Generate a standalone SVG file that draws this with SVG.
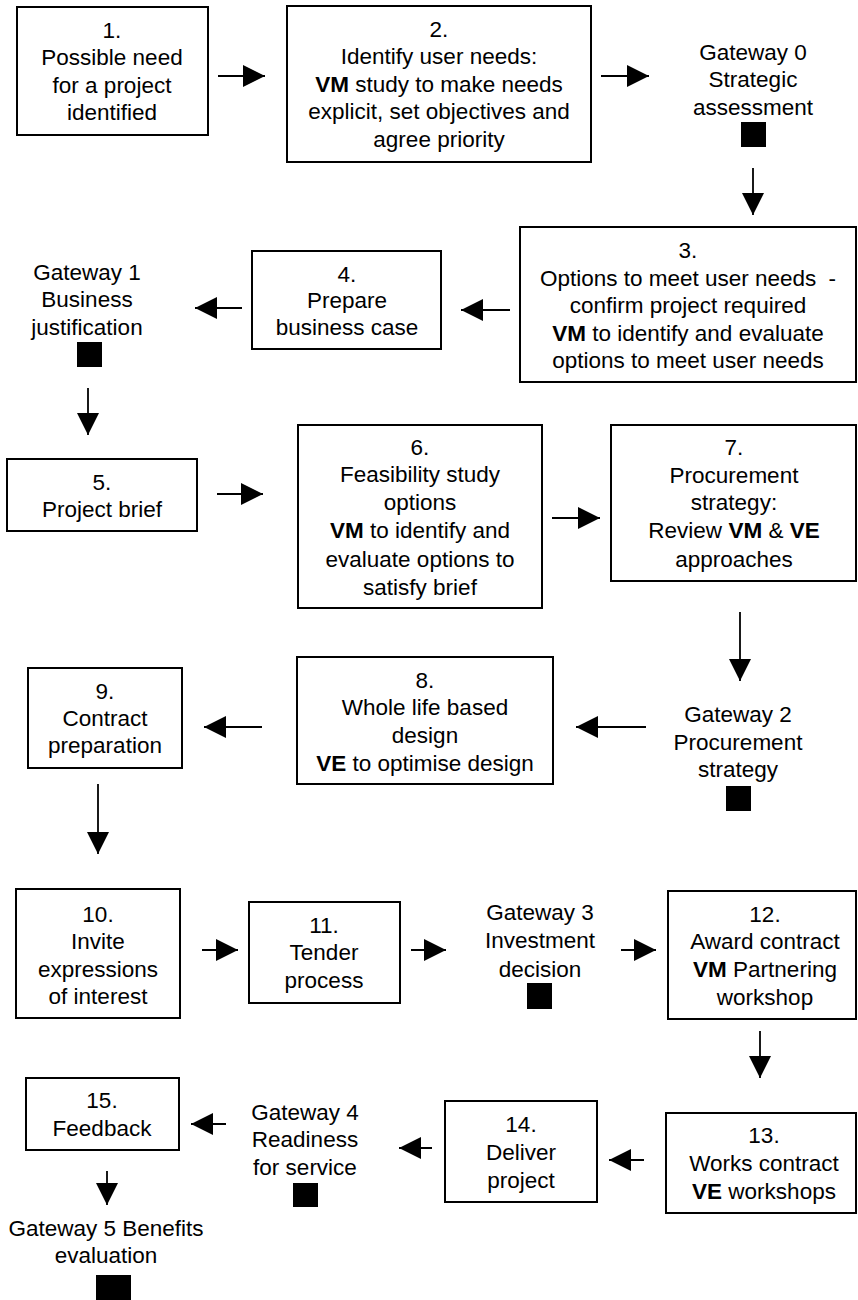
<svg xmlns="http://www.w3.org/2000/svg" width="858" height="1300" viewBox="0 0 858 1300">
<defs>
<style>
.box{fill:#fff;stroke:#000;stroke-width:2}
.t{font-family:"Liberation Sans",Arial,sans-serif;font-size:22.5px;fill:#000;text-anchor:middle}
.b{font-weight:bold}
.c{stroke:#000;stroke-width:1.8;fill:none}
.sq{fill:#000}
</style>
<marker id="ah" markerUnits="userSpaceOnUse" markerWidth="22" markerHeight="22" refX="22" refY="11" orient="auto">
<path d="M0,0 L22,11 L0,22 Z" fill="#000"/>
</marker>
</defs>
<rect width="858" height="1300" fill="#fff"/>

<g id="connectors">
<line class="c" x1="218" y1="76" x2="265" y2="76" marker-end="url(#ah)"/>
<line class="c" x1="601" y1="76" x2="649" y2="76" marker-end="url(#ah)"/>
<line class="c" x1="753" y1="168" x2="753" y2="215" marker-end="url(#ah)"/>
<line class="c" x1="510" y1="310" x2="461" y2="310" marker-end="url(#ah)"/>
<line class="c" x1="242" y1="308" x2="195" y2="308" marker-end="url(#ah)"/>
<line class="c" x1="88" y1="388" x2="88" y2="435" marker-end="url(#ah)"/>
<line class="c" x1="217" y1="494" x2="263" y2="494" marker-end="url(#ah)"/>
<line class="c" x1="552" y1="518" x2="600" y2="518" marker-end="url(#ah)"/>
<line class="c" x1="740" y1="612" x2="740" y2="681" marker-end="url(#ah)"/>
<line class="c" x1="646" y1="727" x2="576" y2="727" marker-end="url(#ah)"/>
<line class="c" x1="262" y1="727" x2="204" y2="727" marker-end="url(#ah)"/>
<line class="c" x1="98" y1="784" x2="98" y2="854" marker-end="url(#ah)"/>
<line class="c" x1="202" y1="950" x2="238" y2="950" marker-end="url(#ah)"/>
<line class="c" x1="411" y1="950" x2="446" y2="950" marker-end="url(#ah)"/>
<line class="c" x1="621" y1="950" x2="656" y2="950" marker-end="url(#ah)"/>
<line class="c" x1="760" y1="1031" x2="760" y2="1078" marker-end="url(#ah)"/>
<line class="c" x1="644" y1="1160" x2="609" y2="1160" marker-end="url(#ah)"/>
<line class="c" x1="432" y1="1148" x2="399" y2="1148" marker-end="url(#ah)"/>
<line class="c" x1="226" y1="1124" x2="191" y2="1124" marker-end="url(#ah)"/>
<line class="c" x1="107" y1="1171" x2="107" y2="1205" marker-end="url(#ah)"/>
</g>

<g id="n1">
<rect class="box" x="17" y="7" width="191" height="128"/>
<text class="t" x="112" y="38">1.</text>
<text class="t" x="112" y="65">Possible need</text>
<text class="t" x="112" y="93">for a project</text>
<text class="t" x="112" y="120">identified</text>
</g>

<g id="n2">
<rect class="box" x="287" y="6" width="304" height="156"/>
<text class="t" x="439" y="37">2.</text>
<text class="t" x="439" y="64">Identify user needs:</text>
<text class="t" x="439" y="92"><tspan class="b">VM</tspan> study to make needs</text>
<text class="t" x="439" y="119">explicit, set objectives and</text>
<text class="t" x="439" y="147">agree priority</text>
</g>

<g id="gw0">
<text class="t" x="753" y="60">Gateway 0</text>
<text class="t" x="753" y="87">Strategic</text>
<text class="t" x="753" y="115">assessment</text>
<rect class="sq" x="741" y="122" width="25" height="25"/>
</g>

<g id="n3">
<rect class="box" x="520" y="227" width="336" height="155"/>
<text class="t" x="688" y="258">3.</text>
<text class="t" x="688" y="286">Options to meet user needs <tspan dx="6">-</tspan></text>
<text class="t" x="688" y="313">confirm project required</text>
<text class="t" x="688" y="341"><tspan class="b">VM</tspan> to identify and evaluate</text>
<text class="t" x="688" y="368">options to meet user needs</text>
</g>

<g id="n4">
<rect class="box" x="252" y="251" width="189" height="98"/>
<text class="t" x="347" y="282">4.</text>
<text class="t" x="347" y="308">Prepare</text>
<text class="t" x="347" y="335">business case</text>
</g>

<g id="gw1">
<text class="t" x="87" y="280">Gateway 1</text>
<text class="t" x="87" y="307">Business</text>
<text class="t" x="87" y="335">justification</text>
<rect class="sq" x="77" y="342" width="25" height="25"/>
</g>

<g id="n5">
<rect class="box" x="7" y="459" width="190" height="72"/>
<text class="t" x="102" y="490">5.</text>
<text class="t" x="102" y="517">Project brief</text>
</g>

<g id="n6">
<rect class="box" x="298" y="425" width="244" height="183"/>
<text class="t" x="420" y="455">6.</text>
<text class="t" x="420" y="482">Feasibility study</text>
<text class="t" x="420" y="510">options</text>
<text class="t" x="420" y="538"><tspan class="b">VM</tspan> to identify and</text>
<text class="t" x="420" y="567">evaluate options to</text>
<text class="t" x="420" y="595">satisfy brief</text>
</g>

<g id="n7">
<rect class="box" x="611" y="425" width="245" height="156"/>
<text class="t" x="734" y="455">7.</text>
<text class="t" x="734" y="483">Procurement</text>
<text class="t" x="734" y="510">strategy:</text>
<text class="t" x="734" y="538">Review <tspan class="b">VM</tspan> &amp; <tspan class="b">VE</tspan></text>
<text class="t" x="734" y="567">approaches</text>
</g>

<g id="gw2">
<text class="t" x="738" y="722">Gateway 2</text>
<text class="t" x="738" y="750">Procurement</text>
<text class="t" x="738" y="777">strategy</text>
<rect class="sq" x="726" y="786" width="25" height="25"/>
</g>

<g id="n8">
<rect class="box" x="297" y="657" width="256" height="127"/>
<text class="t" x="425" y="688">8.</text>
<text class="t" x="425" y="715">Whole life based</text>
<text class="t" x="425" y="743">design</text>
<text class="t" x="425" y="771"><tspan class="b">VE</tspan> to optimise design</text>
</g>

<g id="n9">
<rect class="box" x="28" y="668" width="154" height="100"/>
<text class="t" x="105" y="699">9.</text>
<text class="t" x="105" y="726">Contract</text>
<text class="t" x="105" y="753">preparation</text>
</g>

<g id="n10">
<rect class="box" x="16" y="889" width="164" height="129"/>
<text class="t" x="98" y="922">10.</text>
<text class="t" x="98" y="949">Invite</text>
<text class="t" x="98" y="977">expressions</text>
<text class="t" x="98" y="1004">of interest</text>
</g>

<g id="n11">
<rect class="box" x="249" y="902" width="151" height="101"/>
<text class="t" x="324" y="933">11.</text>
<text class="t" x="324" y="960">Tender</text>
<text class="t" x="324" y="988">process</text>
</g>

<g id="gw3">
<text class="t" x="540" y="920">Gateway 3</text>
<text class="t" x="540" y="948">Investment</text>
<text class="t" x="540" y="977">decision</text>
<rect class="sq" x="527" y="983" width="25" height="26"/>
</g>

<g id="n12">
<rect class="box" x="668" y="891" width="188" height="128"/>
<text class="t" x="765" y="922">12.</text>
<text class="t" x="765" y="949">Award contract</text>
<text class="t" x="765" y="977"><tspan class="b">VM</tspan> Partnering</text>
<text class="t" x="765" y="1005">workshop</text>
</g>

<g id="n13">
<rect class="box" x="666" y="1113" width="190" height="100"/>
<text class="t" x="764" y="1143">13.</text>
<text class="t" x="764" y="1171">Works contract</text>
<text class="t" x="764" y="1199"><tspan class="b">VE</tspan> workshops</text>
</g>

<g id="n14">
<rect class="box" x="445" y="1101" width="152" height="101"/>
<text class="t" x="521" y="1132">14.</text>
<text class="t" x="521" y="1160">Deliver</text>
<text class="t" x="521" y="1188">project</text>
</g>

<g id="gw4">
<text class="t" x="305" y="1120">Gateway 4</text>
<text class="t" x="305" y="1147">Readiness</text>
<text class="t" x="305" y="1175">for service</text>
<rect class="sq" x="293" y="1183" width="25" height="24"/>
</g>

<g id="n15">
<rect class="box" x="26" y="1078" width="153" height="72"/>
<text class="t" x="102" y="1108">15.</text>
<text class="t" x="102" y="1136">Feedback</text>
</g>

<g id="gw5">
<text class="t" x="106" y="1236">Gateway 5 Benefits</text>
<text class="t" x="106" y="1263">evaluation</text>
<rect class="sq" x="96" y="1275" width="35" height="25"/>
</g>
</svg>
